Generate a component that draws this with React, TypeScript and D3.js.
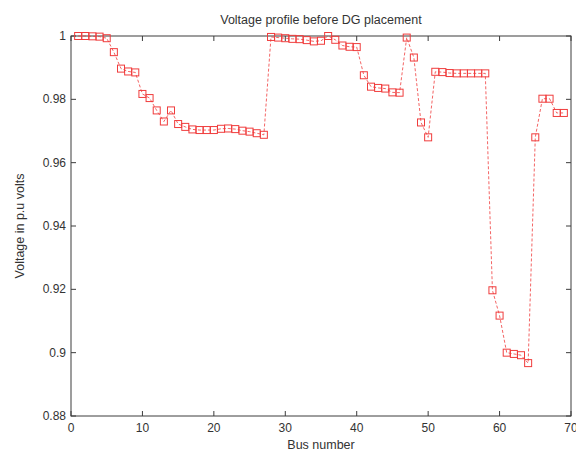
import React from "react";
import { scaleLinear, line } from "d3";

// bus voltages (IEEE 69 bus, before DG)
const busNumbers = [
  1, 2, 3, 4, 5, 6, 7, 8, 9, 10, 11, 12, 13, 14, 15, 16, 17, 18, 19, 20, 21, 22, 23,
  24, 25, 26, 27, 28, 29, 30, 31, 32, 33, 34, 35, 36, 37, 38, 39, 40, 41, 42, 43, 44, 45,
  46, 47, 48, 49, 50, 51, 52, 53, 54, 55, 56, 57, 58, 59, 60, 61, 62, 63, 64, 65, 66, 67,
  68, 69,
];
const voltages = [
  1.0, 1.0, 0.9999, 0.9998, 0.9993, 0.9949, 0.9897, 0.9888, 0.9885, 0.9817, 0.9804,
  0.9765, 0.973, 0.9765, 0.9722, 0.9713, 0.9705, 0.9703, 0.9703, 0.9703, 0.9707, 0.9708,
  0.9706, 0.9701, 0.9698, 0.9693, 0.9688, 0.9997, 0.9995, 0.9993, 0.9991, 0.999, 0.9987,
  0.9983, 0.9985, 1.0, 0.9988, 0.997, 0.9966, 0.9965, 0.9876, 0.984, 0.9836, 0.9834,
  0.9822, 0.9821, 0.9995, 0.9932, 0.9727, 0.968, 0.9887, 0.9886, 0.9883, 0.9882, 0.9882,
  0.9882, 0.9882, 0.9882, 0.9197, 0.9117, 0.9, 0.8996, 0.8992, 0.8967, 0.968, 0.9802,
  0.9802, 0.9757, 0.9757,
];
const xTicks = [0, 10, 20, 30, 40, 50, 60, 70];
const yTicks = [0.88, 0.9, 0.92, 0.94, 0.96, 0.98, 1];
const yTickLabels = ["0.88", "0.9", "0.92", "0.94", "0.96", "0.98", "1"];

const W = 576;
const H = 452;
const margin = { left: 71, right: 5, top: 36, bottom: 36 };
const axisColor = "#3c3c3c";
const textColor = "#333";
const red = "#f03c3c";
const font = "Liberation Sans, Arial, sans-serif";

export default function App() {
  const x = scaleLinear().domain([0, 70]).range([margin.left, W - margin.right]);
  const y = scaleLinear().domain([0.88, 1]).range([H - margin.bottom, margin.top]);
  const pts = busNumbers.map((b, i) => [b, voltages[i]] as [number, number]);
  const path = line<[number, number]>()
    .x((d) => x(d[0]))
    .y((d) => y(d[1]))(pts);
  const x0 = x(0), x1 = x(70), y0 = y(0.88), y1 = y(1);
  const tick = 5;
  const ms = 7;

  return (
    <svg
      width={W}
      height={H}
      style={{ position: "absolute", left: 0, top: 0, background: "#fff" }}
      fontFamily={font}
    >
      <rect x={0} y={0} width={W} height={H} fill="#fff" />
      {/* ticks, box style like matlab */}
      {xTicks.map((t) => (
        <g key={"x" + t}>
          <line x1={x(t)} x2={x(t)} y1={y0} y2={y0 - tick} stroke={axisColor} />
          <line x1={x(t)} x2={x(t)} y1={y1} y2={y1 + tick} stroke={axisColor} />
          <text x={x(t)} y={432} textAnchor="middle" fontSize={12} fill={textColor}>
            {t}
          </text>
        </g>
      ))}
      {yTicks.map((t, i) => (
        <g key={"y" + t}>
          <line x1={x0} x2={x0 + tick} y1={y(t)} y2={y(t)} stroke={axisColor} />
          <line x1={x1} x2={x1 - tick} y1={y(t)} y2={y(t)} stroke={axisColor} />
          <text x={x0 - 5} y={y(t) + 4} textAnchor="end" fontSize={12} fill={textColor}>
            {yTickLabels[i]}
          </text>
        </g>
      ))}
      <rect
        x={x0}
        y={y1}
        width={x1 - x0}
        height={y0 - y1}
        fill="none"
        stroke={axisColor}
        strokeWidth={1}
      />
      <path d={path ?? ""} fill="none" stroke={red} strokeWidth={0.8} strokeDasharray="3,2" />
      {pts.map((d, i) => (
        <rect
          key={i}
          x={x(d[0]) - ms / 2}
          y={y(d[1]) - ms / 2}
          width={ms}
          height={ms}
          fill="none"
          stroke={red}
          strokeWidth={1}
        />
      ))}
      <text x={(x0 + x1) / 2} y={24} textAnchor="middle" fontSize={12.5} fill={textColor}>
        Voltage profile before DG placement
      </text>
      <text x={(x0 + x1) / 2} y={449} textAnchor="middle" fontSize={12.5} fill={textColor}>
        Bus number
      </text>
      <text
        transform={`translate(24, ${(y0 + y1) / 2}) rotate(-90)`}
        textAnchor="middle"
        fontSize={12.5}
        fill={textColor}
      >
        Voltage in p.u volts
      </text>
    </svg>
  );
}
